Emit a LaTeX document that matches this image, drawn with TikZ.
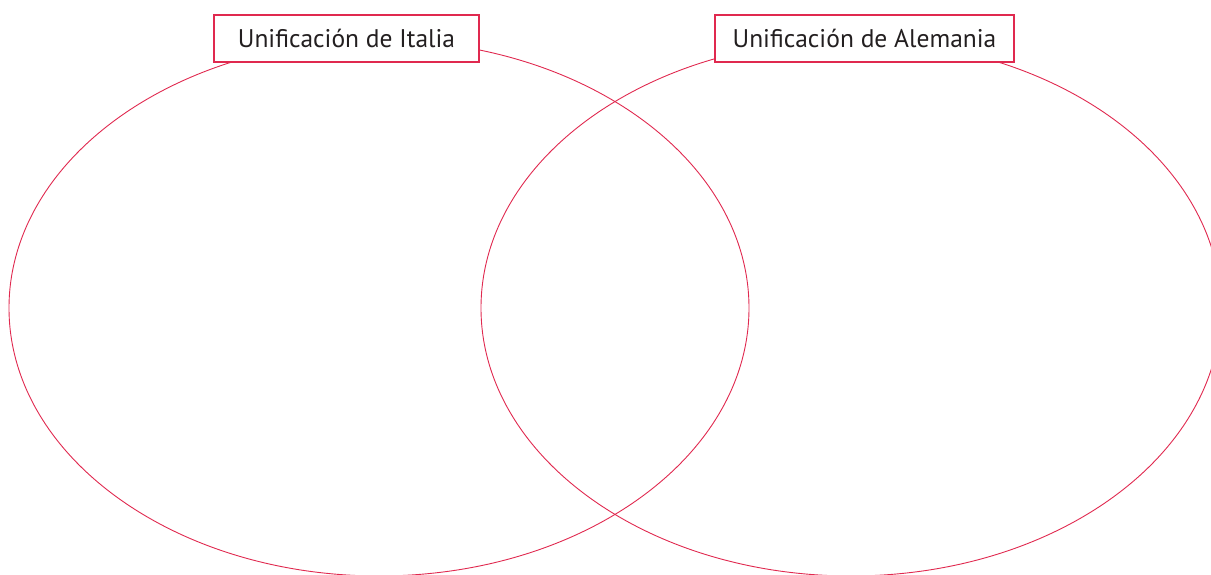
\documentclass[tikz,border=0pt]{standalone}
\usepackage{fontspec}
\setmainfont{PT Sans}
\definecolor{vred}{HTML}{E0294F}
\definecolor{txt}{HTML}{231F20}
\begin{document}
\begin{tikzpicture}[x=1pt,y=-1pt,
  ring/.style={draw=vred,line width=0.9pt},
  label/.style={draw=vred,line width=1.1pt,fill=white,text=txt,inner sep=0pt,
    font=\fontsize{25.5}{28}\selectfont}]
\useasboundingbox (0,0) rectangle (1211,575);
\clip (0,0) rectangle (1211,575);
\draw[ring] (379,308) ellipse [x radius=370, y radius=268];
\draw[ring] (851,308) ellipse [x radius=370, y radius=268];
\node[label,minimum width=265pt,minimum height=47pt] (italia) at (346.5,38.5) {Unificación de Italia};
\node[label,minimum width=299pt,minimum height=47pt] (alemania) at (864.5,38.5) {Unificación de Alemania};
\end{tikzpicture}
\end{document}
